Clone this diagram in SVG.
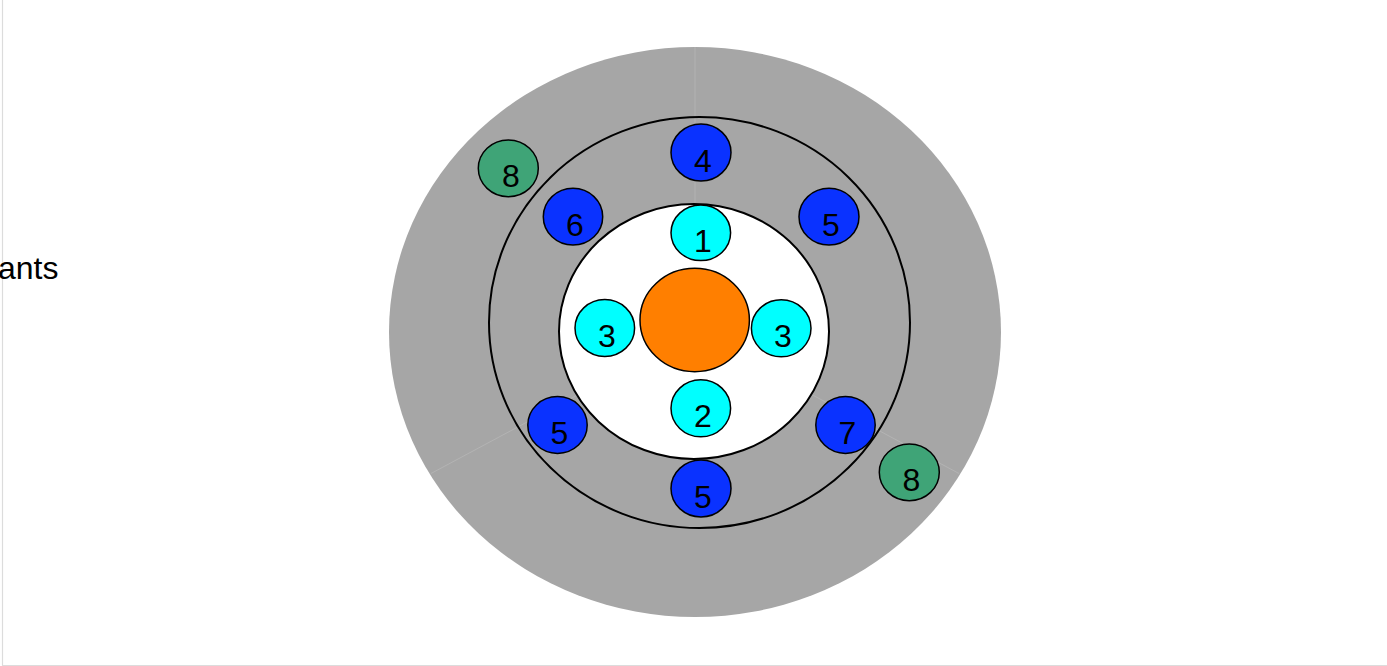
<svg xmlns="http://www.w3.org/2000/svg" width="1387" height="666" viewBox="0 0 1387 666">
<style>
.n{stroke:#000;stroke-width:1.5}
.blue{fill:#0a32ff}
.cyan{fill:#00ffff}
.green{fill:#3fa477}
.lbl{font-family:"Liberation Sans",Arial,sans-serif;font-size:32px;fill:#000;text-anchor:middle}
.seam{stroke:#b6b6b6;stroke-width:0.8;fill:none}
</style>
<rect x="0" y="0" width="1387" height="666" fill="#fff"/>
<path d="M2.5 0 V665.5 H1387" fill="none" stroke="#dcdcdc" stroke-width="1.2"/>
<text x="-2" y="279" font-family="Liberation Sans, Arial, sans-serif" font-size="32" fill="#000">ants</text>
<g id="outer">
<ellipse cx="695" cy="332" rx="306" ry="285" fill="#a6a6a6"/>
<g class="seam">
<line x1="695" y1="332" x2="695" y2="47"/>
<line x1="695" y1="332" x2="431" y2="473.5"/>
<line x1="695" y1="332" x2="959" y2="473.5"/>
</g>
</g>
<g id="ring">
<ellipse cx="699.5" cy="322.5" rx="210.5" ry="205.5" fill="none" stroke="#000" stroke-width="2"/>
</g>
<g id="inner">
<ellipse cx="694" cy="331.5" rx="135" ry="127.5" fill="#fff" stroke="#000" stroke-width="2"/>
</g>
<g id="core"><ellipse class="n" cx="694.7" cy="320" rx="54.7" ry="51.7" fill="#ff7f00"/></g>
<g id="c1"><ellipse class="n cyan" cx="700.8" cy="232.8" rx="29.8" ry="27.8"/><text class="lbl" x="703" y="252">1</text></g>
<g id="c3l"><ellipse class="n cyan" cx="604.8" cy="328" rx="29.8" ry="28.5"/><text class="lbl" x="607" y="347">3</text></g>
<g id="c3r"><ellipse class="n cyan" cx="781.2" cy="328.3" rx="29.8" ry="28.5"/><text class="lbl" x="783" y="347">3</text></g>
<g id="c2"><ellipse class="n cyan" cx="700.8" cy="408.3" rx="29.8" ry="28.5"/><text class="lbl" x="703" y="427">2</text></g>
<g id="b4"><ellipse class="n blue" cx="701" cy="152.5" rx="30" ry="28.5"/><text class="lbl" x="703" y="171.5">4</text></g>
<g id="b6"><ellipse class="n blue" cx="573" cy="216.7" rx="29.7" ry="28.4"/><text class="lbl" x="575" y="236">6</text></g>
<g id="b5tr"><ellipse class="n blue" cx="829" cy="216.7" rx="30" ry="28.4"/><text class="lbl" x="831" y="236">5</text></g>
<g id="b5bl"><ellipse class="n blue" cx="557.5" cy="425" rx="29.7" ry="28.4"/><text class="lbl" x="559.5" y="444">5</text></g>
<g id="b5b"><ellipse class="n blue" cx="701" cy="488.5" rx="30" ry="28.4"/><text class="lbl" x="703" y="507.5">5</text></g>
<g id="b7"><ellipse class="n blue" cx="845.5" cy="425" rx="29.7" ry="28.4"/><text class="lbl" x="847.5" y="444">7</text></g>
<g id="g8a"><ellipse class="n green" cx="508.3" cy="168.3" rx="30" ry="28.4"/><text class="lbl" x="511" y="186.7">8</text></g>
<g id="g8b"><ellipse class="n green" cx="909.3" cy="472.3" rx="30" ry="28.4"/><text class="lbl" x="911.5" y="491">8</text></g>
</svg>
